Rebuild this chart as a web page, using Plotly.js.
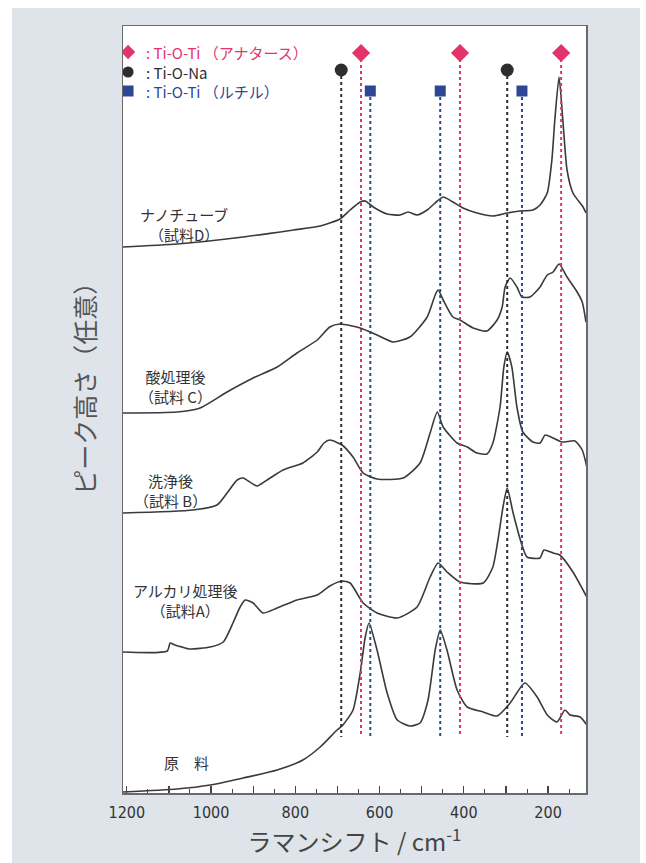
<!DOCTYPE html>
<html>
<head>
<meta charset="utf-8">
<script src="https://cdn.plot.ly/plotly-3.0.1.min.js"></script>
<style>
  html, body { margin: 0; padding: 0; background: #ffffff; }
  #chart { position: absolute; left: 12px; top: 8px; width: 628px; height: 855px; }
</style>
</head>
<body>
<div id="chart"></div>
<script>
// ---- data (Raman shift in cm^-1, intensity in arbitrary units) ----
const shiftD = [1209,1081,924,805,741,694,670,646,634,615,582,551,532,511,487,463,449,426,402,369,331,297,267,236,219,202,191,184,174,165,155,141,117,110];
const intD   = [546,549,556,563,567,574,583,591,592,586,579,578,581,578,583,592,596,591,585,580,577,580,582,583,588,600,633,673,716,673,623,600,586,580];

const shiftC = [1209,1081,1026,962,900,843,796,748,718,694,646,606,568,528,487,468,461,449,426,409,378,345,321,309,302,290,274,262,243,219,202,188,174,155,131,119,110];
const intC   = [380,381,385,401,415,426,440,453,466,469,465,458,451,456,476,498,503,493,476,473,465,462,473,486,506,515,506,496,496,506,518,521,529,516,501,491,471];

const shiftB = [1209,1043,986,962,938,924,891,867,829,782,748,732,718,689,663,639,606,544,504,480,463,449,416,392,369,345,331,314,305,297,286,274,260,236,219,207,188,167,136,119,108];
const intB   = [280,283,288,300,313,315,307,313,323,330,341,350,353,348,336,320,314,315,330,360,381,366,350,346,340,339,350,386,426,441,426,386,361,351,350,358,355,351,352,343,326];

const shiftA = [1209,1104,1097,1086,1069,1050,1002,971,948,931,919,900,877,843,796,748,718,689,670,639,606,558,511,480,461,440,409,354,331,319,307,297,283,262,250,219,210,188,172,141,117,108];
const intA   = [141,142,150,148,146,144,146,151,170,186,193,190,180,185,193,198,207,212,210,190,180,175,186,216,230,221,211,210,226,253,286,305,280,248,236,235,243,240,238,221,203,196];

const shiftR = [1209,1081,1002,924,843,782,741,701,687,663,646,634,625,606,582,558,528,504,485,468,456,440,416,392,354,321,290,255,226,202,179,160,148,124,108];
const intR   = [1,4,8,15,23,33,46,63,68,83,120,156,170,143,100,73,67,70,93,143,163,143,103,86,81,77,90,110,96,78,71,83,78,76,68];

// band assignments (cm^-1)
const anatasePeaks = [644, 409, 169];   // Ti-O-Ti (anatase)
const naPeaks      = [691, 297];        // Ti-O-Na
const rutilePeaks  = [622, 456, 262];   // Ti-O-Ti (rutile)

const legendTexts = [': Ti-O-Ti （アナタース）', ': Ti-O-Na', ': Ti-O-Ti （ルチル）'];
const sampleNames = ['ナノチューブ', '酸処理後', '洗浄後', 'アルカリ処理後', '原　料'];
const sampleSubs  = ['（試料D）', '（試料 C）', '（試料 B）', '（試料A）', ''];

const xTickVals  = [1200,1000,800,600,400,200];
const xTickText  = ['1200','1000','800','600','400','200'];
const xMidTicks  = [1100,900,700,500,300];
const xMinorVals = [1150,1050,950,850,750,650,550,450,350,250,150];

const xTitle = 'ラマンシフト / cm<sup>-1</sup>';
const yTitle = 'ピーク高さ（任意）';

// ---- styling ----
const PINK = '#e2336b', DARK = '#2e2e2e', BLUE = '#2d4696';
const CURVE = '#3a3a3a';
const JP = 'Noto Sans CJK JP, Noto Sans, sans-serif';
const XRANGE = [1209, 110];

const traces = [];
function curve(x, y) {
  traces.push({x: x, y: y, type: 'scatter', mode: 'lines',
    line: {color: CURVE, width: 1.6, shape: 'spline', smoothing: 0.6},
    hoverinfo: 'skip', showlegend: false});
}
curve(shiftD, intD); curve(shiftC, intC); curve(shiftB, intB); curve(shiftA, intA); curve(shiftR, intR);

const LINE_BOTTOM = 56;
function bandLines(peaks, top, color, symbol, size) {
  const lx = [], ly = [];
  peaks.forEach(p => { lx.push(p, p, null); ly.push(top, LINE_BOTTOM, null); });
  traces.push({x: lx, y: ly, type: 'scatter', mode: 'lines',
    line: {color: color, width: 2, dash: 'dot'}, hoverinfo: 'skip', showlegend: false});
  traces.push({x: peaks, y: peaks.map(() => top), type: 'scatter', mode: 'markers',
    marker: {color: color, symbol: symbol, size: size, opacity: 1}, hoverinfo: 'skip', showlegend: false});
}
bandLines(naPeaks, 723, DARK, 'circle', 13);
bandLines(rutilePeaks, 702, BLUE, 'square', 11);
bandLines(anatasePeaks, 740, PINK, 'diamond', 14);

// legend symbols (on the overlaid minor-tick axis, same scale)
const legY = [741, 721, 702];
traces.push({x: [1197, 1197, 1197], y: legY, type: 'scatter', mode: 'markers', xaxis: 'x2',
  marker: {color: [PINK, DARK, BLUE], symbol: ['diamond', 'circle', 'square'], size: 11, opacity: 1},
  hoverinfo: 'skip', showlegend: false});

const annotations = [];
const legColors = [PINK, DARK, BLUE];
legendTexts.forEach((t, i) => {
  annotations.push({x: 1160, y: legY[i], xref: 'x', yref: 'y', text: t, showarrow: false,
    xanchor: 'left', yanchor: 'middle', font: {family: JP, size: 15, color: legColors[i]}});
});

const labelPos = [[1064, 569], [1085, 407], [1096, 303], [1062, 193], [1059, 31]];
sampleNames.forEach((t, i) => {
  const txt = sampleSubs[i] ? t + '<br>' + sampleSubs[i] : t;
  annotations.push({x: labelPos[i][0], y: labelPos[i][1], xref: 'x', yref: 'y', text: txt, showarrow: false,
    xanchor: 'center', yanchor: 'middle', align: 'center',
    font: {family: JP, size: 15, color: '#333'}});
});

// vertical axis title, placed where the reference shows it
annotations.push({x: -0.086, y: 0.535, xref: 'paper', yref: 'paper', text: yTitle, showarrow: false,
  textangle: -90, xanchor: 'center', yanchor: 'middle', font: {family: JP, size: 25, color: '#555'}});

const layout = {
  width: 628, height: 855,
  margin: {l: 111, r: 54, t: 18, b: 70},
  paper_bgcolor: '#dee4ea', plot_bgcolor: '#ffffff',
  showlegend: false,
  xaxis: {
    range: XRANGE, showgrid: false, zeroline: false,
    showline: true, mirror: true, linecolor: '#6a6a6a', linewidth: 1.5,
    ticks: 'inside', ticklen: 7, tickcolor: '#444', tickwidth: 1.2,
    tickmode: 'array', tickvals: xTickVals, ticktext: xTickText,
    minor: {tickmode: 'array', tickvals: xMidTicks, ticks: 'inside', ticklen: 7, tickcolor: '#444', tickwidth: 1.2},
    tickfont: {family: 'DejaVu Sans Condensed, Liberation Sans Narrow, Liberation Sans, sans-serif', size: 16, color: '#333'},
    ticklabelstandoff: 4,
    title: {text: xTitle, font: {family: JP, size: 24, color: '#444'}, standoff: 12}
  },
  xaxis2: {
    range: XRANGE, overlaying: 'x', anchor: 'y', side: 'bottom',
    showgrid: false, zeroline: false, showline: false, showticklabels: false,
    ticks: 'inside', ticklen: 4, tickcolor: '#444', tickwidth: 1,
    tickmode: 'array', tickvals: xMinorVals
  },
  yaxis: {
    range: [0, 767], showgrid: false, zeroline: false, showticklabels: false, ticks: '',
    showline: true, mirror: true, linecolor: '#6a6a6a', linewidth: 1.5
  },
  annotations: annotations
};

Plotly.newPlot('chart', traces, layout, {displayModeBar: false, staticPlot: true});
</script>
</body>
</html>
